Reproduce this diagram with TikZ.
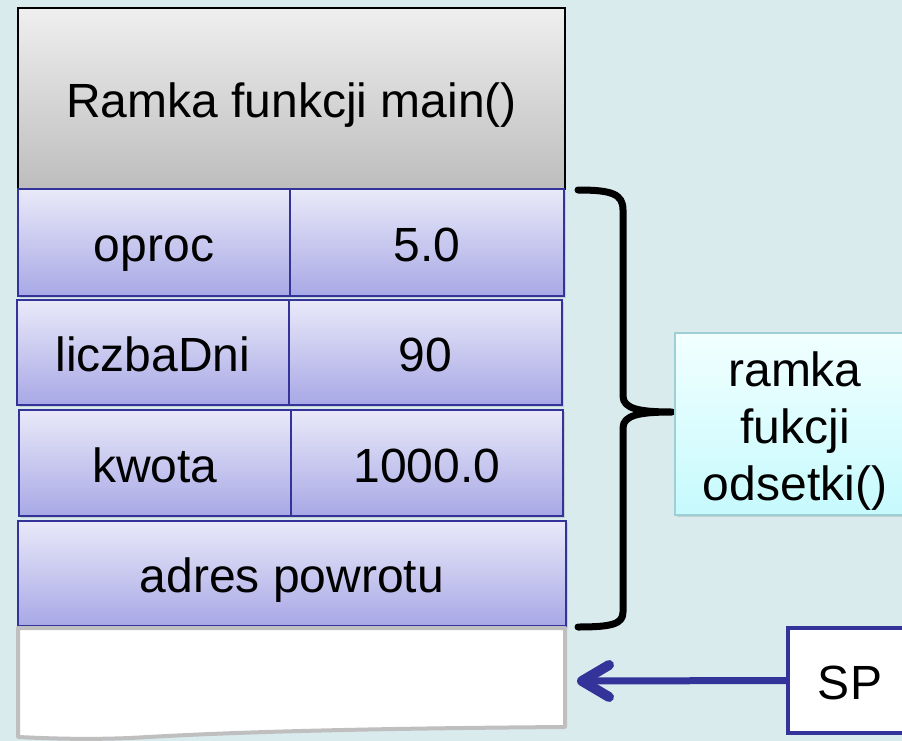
\documentclass[tikz,border=0pt]{standalone}
\usepackage{fontspec}
\setmainfont{Liberation Sans}
\usetikzlibrary{calc,shadows}

\definecolor{bgcol}{HTML}{DAEBEE}
\definecolor{navy}{HTML}{333399}
\definecolor{celltop}{HTML}{E9E9F9}
\definecolor{cellbot}{HTML}{A8A8E6}
\definecolor{greytop}{HTML}{EFEFEF}
\definecolor{greybot}{HTML}{BDBDBD}
\definecolor{notetop}{HTML}{F2FFFF}
\definecolor{notebot}{HTML}{C6FAFD}
\definecolor{noteedge}{HTML}{9ECFD6}
\definecolor{paperedge}{HTML}{BFBFBF}

\tikzset{
  bigtext/.style={font=\fontsize{48}{57}\selectfont},
  oneline/.style={bigtext, text height=38pt, text depth=0pt},
  softshadow/.style={drop shadow={opacity=0.25, shadow xshift=2pt, shadow yshift=-2pt}},
  frame/.style={draw=black, line width=2pt, top color=greytop, bottom color=greybot,
                inner sep=0pt, oneline},
  cell/.style={draw=navy, line width=2pt, top color=celltop, bottom color=cellbot,
               inner sep=0pt, oneline, softshadow},
  note/.style={draw=noteedge, line width=2pt, top color=notetop, bottom color=notebot,
               inner sep=0pt, softshadow},
  spbox/.style={draw=navy, line width=4.5pt, fill=white, inner sep=0pt, oneline},
  bracket/.style={line width=7pt, line cap=round, line join=round},
  pointer/.style={draw=navy, line width=7pt},
  barb/.style={draw=navy, line width=10pt, line cap=round, line join=round},
}

\begin{document}
\begin{tikzpicture}[x=1pt, y=-1pt]
  \clip (0,0) rectangle (902,741);
  \fill[bgcol] (0,0) rectangle (902,741);

  % frame of main()
  \node[frame, minimum width=547pt, minimum height=181pt] (mainframe)
       at (291.5,98.5) {Ramka funkcji main()};

  % stack cells of odsetki()
  \node[cell, minimum width=272pt, minimum height=107pt] (oprocN) at (154,242.5) {oproc};
  \node[cell, minimum width=274pt, minimum height=107pt] (oprocV) at (427,242.5) {5.0};

  \node[cell, minimum width=272pt, minimum height=105pt] (dniN) at (153,352.5) {liczbaDni};
  \node[cell, minimum width=273pt, minimum height=105pt] (dniV) at (425.5,352.5) {90};

  \node[cell, minimum width=272pt, minimum height=106pt] (kwotaN) at (155,463) {kwota};
  \node[cell, minimum width=272pt, minimum height=106pt] (kwotaV) at (427,463) {1000.0};

  \node[cell, minimum width=548pt, minimum height=105pt] (ret) at (292,573.5) {adres powrotu};

  % free stack area with a torn lower edge
  \filldraw[draw=paperedge, fill=white, line width=4pt, line join=round]
    (18,628) -- (565,628) -- (565,727)
    .. controls (300,729) and (200,734) .. (130,738)
    .. controls (80,740) and (40,738) .. (18,737) -- cycle;

  % brace over the odsetki() frame
  \draw[bracket]
    (578,190) .. controls (612,190) and (623,194) .. (623,210)
    -- (623,396) .. controls (623,409) and (640,412) .. (672,412)
    .. controls (640,412) and (623,415) .. (623,428)
    -- (623,612) .. controls (623,624) and (612,627) .. (578,627);

  % label of the brace
  \node[note, minimum width=240pt, minimum height=182pt,
        label={[bigtext, align=center, yshift=-7pt]center:{ramka\\fukcji\\odsetki()}}]
       (label) at (795,424) {};

  % stack pointer
  \node[spbox, minimum width=124pt, minimum height=105pt] (sp) at (850,680.5) {SP};
  \coordinate (sptarget) at (582,681);
  \draw[pointer] (sp.west) -- ($(sptarget)+(6,0)$);
  \draw[barb] ($(sptarget)+(27,-16)$) -- (sptarget) -- ($(sptarget)+(27,16)$);
\end{tikzpicture}
\end{document}
